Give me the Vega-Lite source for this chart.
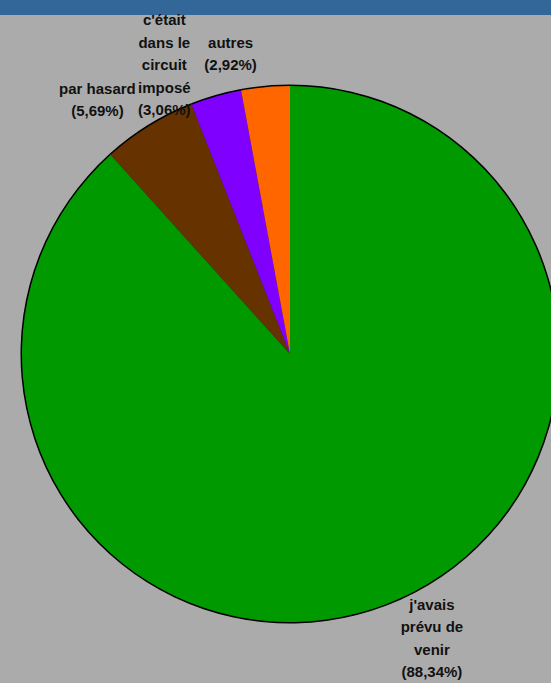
{
  "$schema": "https://vega.github.io/schema/vega-lite/v6.json",
  "width": 580,
  "height": 678,
  "padding": {"top": 15, "left": 0, "right": 0, "bottom": 0},
  "autosize": "none",
  "background": "#336699",
  "view": {"fill": "#ababab", "stroke": null},
  "data": {
    "values": [
      {"reponse": "j'avais prévu de venir", "label": "j'avais\nprévu de\nvenir\n(88,34%)", "pct": 88.34, "ord": 1},
      {"reponse": "par hasard", "label": "par hasard\n(5,69%)", "pct": 5.69, "ord": 2},
      {"reponse": "c'était dans le circuit imposé", "label": "c'était\ndans le\ncircuit\nimposé\n(3,06%)", "pct": 3.06, "ord": 3},
      {"reponse": "autres", "label": "autres\n(2,92%)", "pct": 2.92, "ord": 4}
    ]
  },
  "layer": [
    {
      "mark": {"type": "arc", "radius": 269.5, "fill": "#000000"},
      "encoding": {
        "theta": {"field": "pct", "type": "quantitative", "stack": true},
        "order": {"field": "ord", "type": "quantitative"}
      }
    },
    {
      "mark": {"type": "arc", "radius": 268},
      "encoding": {
        "theta": {"field": "pct", "type": "quantitative", "stack": true},
        "order": {"field": "ord", "type": "quantitative"},
        "color": {
          "field": "reponse",
          "type": "nominal",
          "legend": null,
          "scale": {
            "domain": ["j'avais prévu de venir", "par hasard", "c'était dans le circuit imposé", "autres"],
            "range": ["#009900", "#663300", "#7f00ff", "#ff6600"]
          }
        }
      }
    },
    {
      "mark": {"type": "text", "radius": 318, "lineBreak": "\n", "font": "Liberation Sans", "fontWeight": "bold", "fontSize": 15, "lineHeight": 22.5, "align": "center", "baseline": "middle", "color": "#111111", "dy": -34},
      "encoding": {
        "theta": {"field": "pct", "type": "quantitative", "stack": true, "scale": {"range": [-0.096, 6.187]}},
        "order": {"field": "ord", "type": "quantitative"},
        "text": {"condition": {"test": "datum.ord == 1", "field": "label"}, "value": ""}
      }
    },
    {
      "mark": {"type": "text", "radius": 318, "lineBreak": "\n", "font": "Liberation Sans", "fontWeight": "bold", "fontSize": 15, "lineHeight": 22.5, "align": "center", "baseline": "middle", "color": "#111111", "dy": -12},
      "encoding": {
        "theta": {"field": "pct", "type": "quantitative", "stack": true, "scale": {"range": [-0.096, 6.187]}},
        "order": {"field": "ord", "type": "quantitative"},
        "text": {"condition": {"test": "datum.ord == 2", "field": "label"}, "value": ""}
      }
    },
    {
      "mark": {"type": "text", "radius": 318, "lineBreak": "\n", "font": "Liberation Sans", "fontWeight": "bold", "fontSize": 15, "lineHeight": 22.5, "align": "center", "baseline": "middle", "color": "#111111", "dy": -38, "dx": -9},
      "encoding": {
        "theta": {"field": "pct", "type": "quantitative", "stack": true, "scale": {"range": [-0.096, 6.187]}},
        "order": {"field": "ord", "type": "quantitative"},
        "text": {"condition": {"test": "datum.ord == 3", "field": "label"}, "value": ""}
      }
    },
    {
      "mark": {"type": "text", "radius": 318, "lineBreak": "\n", "font": "Liberation Sans", "fontWeight": "bold", "fontSize": 15, "lineHeight": 22.5, "align": "center", "baseline": "middle", "color": "#111111", "dy": 1},
      "encoding": {
        "theta": {"field": "pct", "type": "quantitative", "stack": true, "scale": {"range": [-0.096, 6.187]}},
        "order": {"field": "ord", "type": "quantitative"},
        "text": {"condition": {"test": "datum.ord == 4", "field": "label"}, "value": ""}
      }
    }
  ],
  "resolve": {"scale": {"theta": "independent"}}
}
